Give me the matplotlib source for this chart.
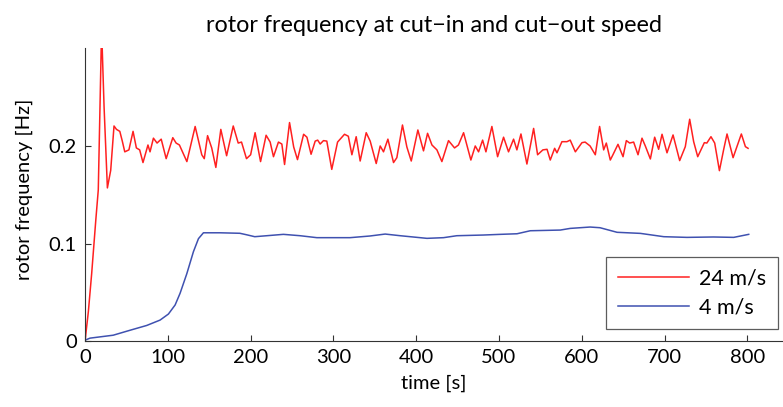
import matplotlib
matplotlib.use("Agg")
import matplotlib.pyplot as plt

plt.rcParams['font.family'] = ['Lato', 'DejaVu Sans']
plt.rcParams['font.size'] = 14

# rotor frequency at cut-out wind speed (24 m/s)
t_24 = [0, 4, 8, 13, 16, 20, 23, 27, 31, 35, 38, 42, 45, 48, 53, 58, 62, 66, 70, 76,
        78.5, 82.6, 87, 92, 98, 106, 110, 114, 123, 133, 141, 144, 148, 153, 158, 164,
        171, 179, 185, 189, 195, 200, 205.4, 212, 218.7, 223.6, 227.6, 233.6, 237.7,
        241, 247, 252, 256.6, 264, 268, 273, 278, 281, 284, 288, 292, 298, 305, 313.4,
        318, 322.3, 327.5, 332.3, 339.6, 344.4, 351.7, 356.5, 360.5, 365.8, 372.6,
        376.6, 383.4, 388.7, 394, 402, 408.8, 413.7, 419, 425, 431, 439, 446.3, 451,
        457.2, 466, 471.3, 475.3, 480.2, 484.2, 491.4, 498.3, 505.5, 511.5, 517.6,
        521.6, 526.5, 533.7, 541.8, 546.6, 553, 558, 561.9, 567.2, 570, 576, 582, 586,
        592.2, 600.2, 604, 610, 616.3, 621.5, 626.4, 629.6, 634.4, 637.6, 643.7, 649.8,
        653.8, 657.8, 662.6, 667.9, 672.7, 676.7, 682.8, 688, 692.8, 696.9, 702.9,
        710.2, 718.2, 725, 730.3, 735.1, 740, 748, 751, 756, 760.5, 766.2, 771.4,
        775.4, 782.7, 792.7, 797.6, 800.8]
f_24 = [0, 0.03, 0.069, 0.124, 0.155, 0.32, 0.24, 0.157, 0.175, 0.2205, 0.217, 0.215,
        0.205, 0.194, 0.196, 0.215, 0.198, 0.196, 0.183, 0.201, 0.194, 0.208, 0.203,
        0.207, 0.187, 0.2085, 0.203, 0.201, 0.184, 0.22, 0.191, 0.187, 0.2106, 0.198,
        0.178, 0.217, 0.19, 0.2205, 0.203, 0.204, 0.187, 0.191, 0.2136, 0.184, 0.211,
        0.204, 0.189, 0.204, 0.202, 0.181, 0.224, 0.199, 0.186, 0.212, 0.209, 0.1915,
        0.205, 0.206, 0.202, 0.2055, 0.205, 0.176, 0.204, 0.212, 0.21, 0.191, 0.2095,
        0.1846, 0.2136, 0.205, 0.182, 0.2, 0.194, 0.207, 0.183, 0.188, 0.2215, 0.199,
        0.1846, 0.2164, 0.195, 0.213, 0.201, 0.196, 0.184, 0.2055, 0.198, 0.201,
        0.2136, 0.1856, 0.2, 0.194, 0.206, 0.194, 0.22, 0.189, 0.209, 0.194, 0.207,
        0.196, 0.2123, 0.1815, 0.218, 0.191, 0.196, 0.1966, 0.1856, 0.1976, 0.193,
        0.2044, 0.2044, 0.206, 0.194, 0.2034, 0.204, 0.2, 0.191, 0.22, 0.196, 0.203,
        0.1856, 0.191, 0.2017, 0.189, 0.2055, 0.203, 0.204, 0.191, 0.208, 0.2, 0.1867,
        0.209, 0.1966, 0.212, 0.193, 0.2113, 0.185, 0.1993, 0.2274, 0.2044, 0.189,
        0.2034, 0.203, 0.2095, 0.203, 0.1747, 0.1966, 0.2123, 0.188, 0.2123, 0.1993,
        0.1976]

# rotor frequency at cut-in wind speed (4 m/s)
t_4 = [0, 0.3, 6, 34, 54, 74.5, 90.6, 100.7, 108.8, 114.8, 122.9, 130.9, 137, 143, 163,
       187, 195, 205, 219.5, 239.6, 259.8, 280, 320, 344, 362.5, 380.7, 413, 433, 449,
       481, 501.5, 521.7, 537.8, 574, 586, 610, 622, 642.6, 670.7, 699, 727, 759,
       783.5, 801.6]
f_4 = [0.16, 0.001, 0.003, 0.006, 0.011, 0.016, 0.0215, 0.0277, 0.037, 0.049, 0.069,
       0.0916, 0.105, 0.111, 0.111, 0.1105, 0.109, 0.107, 0.108, 0.1094, 0.108, 0.106,
       0.106, 0.1077, 0.1097, 0.108, 0.1053, 0.106, 0.108, 0.1087, 0.1094, 0.11,
       0.1131, 0.1138, 0.1155, 0.1169, 0.1162, 0.1115, 0.1104, 0.107, 0.1063, 0.1067,
       0.1063, 0.1094]

x_ticks = [0, 100, 200, 300, 400, 500, 600, 700, 800]
y_ticks = [0, 0.1, 0.2]
y_ticklabels = ['0', '0.1', '0.2']

fig = plt.figure(figsize=(7.83, 4.07), dpi=100)
ax = fig.add_axes([0.1086, 0.162, 0.8914, 0.719])

line4, = ax.plot(t_4, f_4, color='#3f51b0', lw=1.1)
line24, = ax.plot(t_24, f_24, color='#ff2020', lw=1.1)

ax.set_xlim(0, 843)
ax.set_ylim(0, 0.3)
ax.set_xticks(x_ticks)
ax.set_yticks(y_ticks)
ax.set_yticklabels(y_ticklabels)
ax.tick_params(direction='in', length=4, width=0.8, pad=6, colors='#333333',
               labelcolor='black', labelsize=14.5)
for side in ['top', 'right']:
    ax.spines[side].set_visible(False)
for side in ['left', 'bottom']:
    ax.spines[side].set_color('#333333')
    ax.spines[side].set_linewidth(0.8)

ax.set_title('rotor frequency at cut\u2212in and cut\u2212out speed', pad=12)
ax.set_xlabel('time [s]', fontsize=14.5)
ax.xaxis.set_label_coords(0.5, -0.115)
ax.set_ylabel('rotor frequency [Hz]', fontsize=14.5)
ax.yaxis.set_label_coords(-0.074, 0.52)

leg = fig.legend([line24, line4], ['24 m/s', '4 m/s'], loc='lower right',
                 bbox_to_anchor=(0.9936, 0.1916), borderaxespad=0,
                 handlelength=3.3, handletextpad=0.45, borderpad=0.55,
                 labelspacing=0.4, frameon=True, fancybox=False, fontsize=15.5)
leg.get_frame().set_edgecolor('#333333')
leg.get_frame().set_linewidth(0.9)

fig.savefig('out.png', dpi=100)
